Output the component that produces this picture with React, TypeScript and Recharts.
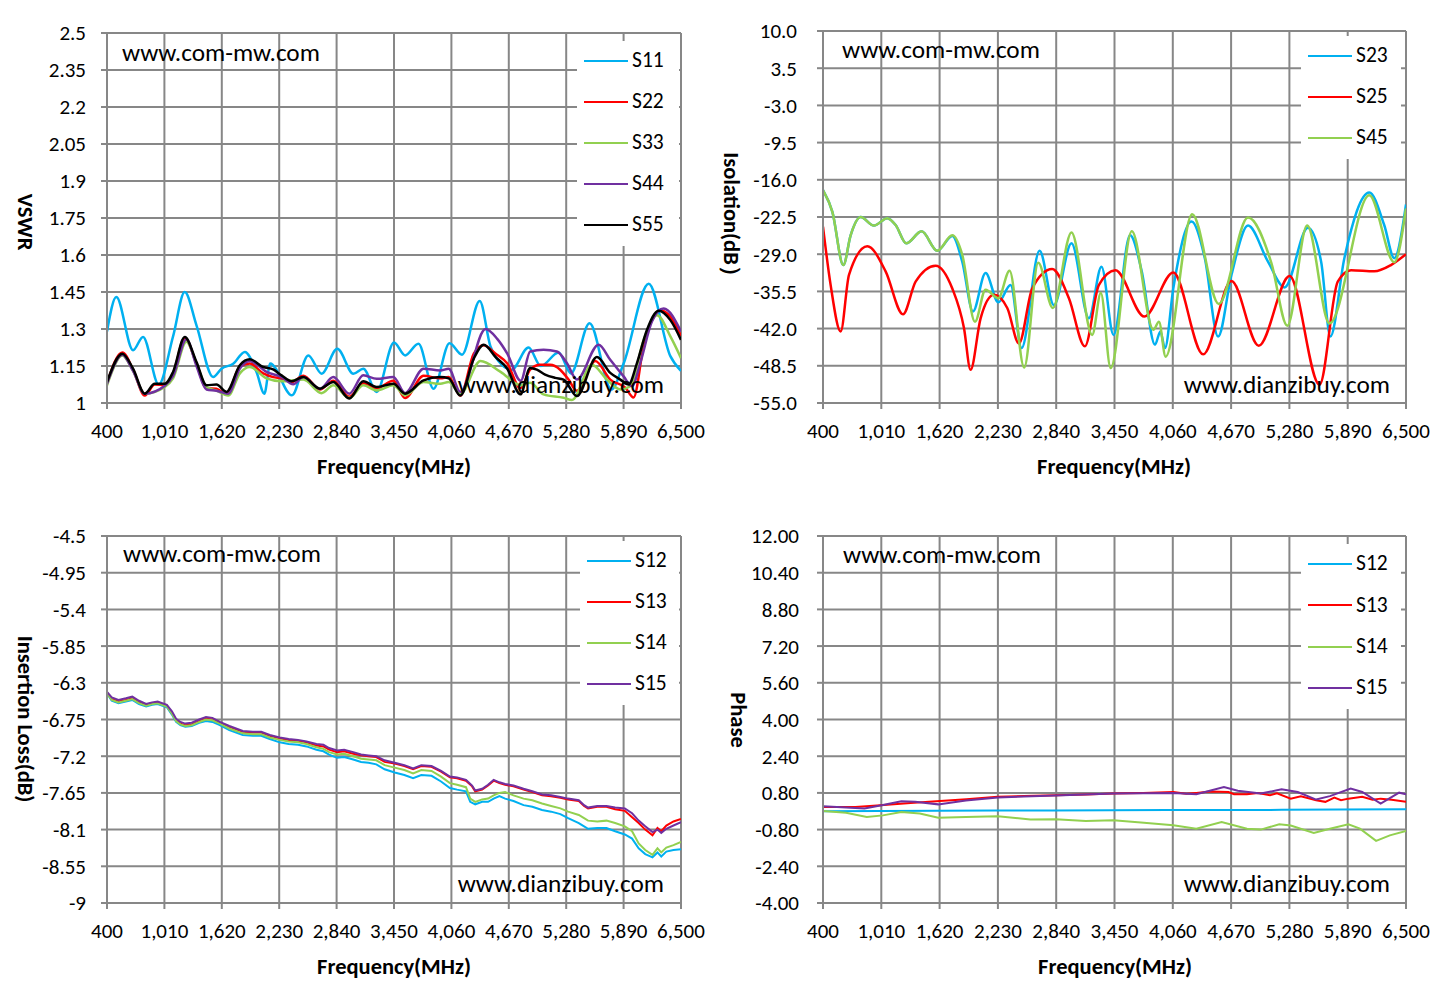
import React from 'react';
import { LineChart, Line, XAxis, YAxis, CartesianGrid, Legend } from 'recharts';

// frequency axis shared by all four panels
const freqTicks = [400, 1010, 1620, 2230, 2840, 3450, 4060, 4670, 5280, 5890, 6500];
const freqLabels = ['400', '1,010', '1,620', '2,230', '2,840', '3,450', '4,060', '4,670', '5,280', '5,890', '6,500'];

const vswrTicks = [1, 1.15, 1.3, 1.45, 1.6, 1.75, 1.9, 2.05, 2.2, 2.35, 2.5];
const vswrLabels = ['1', '1.15', '1.3', '1.45', '1.6', '1.75', '1.9', '2.05', '2.2', '2.35', '2.5'];
const isoTicks = [-55, -48.5, -42, -35.5, -29, -22.5, -16, -9.5, -3, 3.5, 10];
const isoLabels = ['-55.0', '-48.5', '-42.0', '-35.5', '-29.0', '-22.5', '-16.0', '-9.5', '-3.0', '3.5', '10.0'];
const ilTicks = [-9, -8.55, -8.1, -7.65, -7.2, -6.75, -6.3, -5.85, -5.4, -4.95, -4.5];
const ilLabels = ['-9', '-8.55', '-8.1', '-7.65', '-7.2', '-6.75', '-6.3', '-5.85', '-5.4', '-4.95', '-4.5'];
const phaseTicks = [-4, -2.4, -0.8, 0.8, 2.4, 4, 5.6, 7.2, 8.8, 10.4, 12];
const phaseLabels = ['-4.00', '-2.40', '-0.80', '0.80', '2.40', '4.00', '5.60', '7.20', '8.80', '10.40', '12.00'];

// VSWR  [MHz, value]
const s11 = [[400,1.29],[499,1.43],[677,1.214],[783,1.268],[950,1.075],[1102,1.27],[1226,1.45],[1351,1.315],[1528,1.105],[1617,1.139],[1741,1.159],[1865,1.207],[1989,1.126],[2072,1.038],[2135,1.16],[2365,1.031],[2539,1.193],[2681,1.119],[2847,1.22],[3018,1.119],[3124,1.139],[3266,1.045],[3450,1.245],[3568,1.193],[3710,1.24],[3870,1.058],[4040,1.242],[4173,1.196],[4361,1.414],[4475,1.229],[4560,1.17],[4700,1.135],[4880,1.225],[5010,1.15],[5200,1.205],[5330,1.12],[5528,1.323],[5760,1.055],[5890,1.16],[6156,1.483],[6387,1.19],[6500,1.13]];
const s22 = [[400,1.08],[563,1.205],[677,1.135],[801,1.03],[907,1.075],[1014,1.072],[1102,1.12],[1226,1.262],[1351,1.16],[1457,1.06],[1563,1.058],[1670,1.035],[1812,1.148],[1918,1.16],[2060,1.12],[2166,1.105],[2255,1.1],[2362,1.085],[2486,1.11],[2663,1.055],[2805,1.09],[2975,1.025],[3124,1.08],[3266,1.06],[3443,1.09],[3568,1.02],[3764,1.11],[3942,1.1],[4031,1.105],[4155,1.03],[4298,1.2],[4404,1.234],[4530,1.2],[4654,1.16],[4793,1.06],[4897,1.135],[5003,1.155],[5110,1.155],[5216,1.135],[5305,1.095],[5393,1.05],[5589,1.17],[5748,1.095],[5908,1.062],[5996,1.022],[6102,1.229],[6280,1.376],[6387,1.35],[6500,1.272]];
const s33 = [[400,1.072],[563,1.193],[677,1.13],[801,1.038],[1014,1.065],[1102,1.1],[1244,1.248],[1351,1.16],[1457,1.065],[1563,1.05],[1688,1.03],[1812,1.12],[1918,1.146],[2095,1.1],[2255,1.088],[2486,1.095],[2681,1.04],[2805,1.072],[2975,1.02],[3124,1.072],[3266,1.051],[3443,1.072],[3568,1.031],[3764,1.085],[3942,1.078],[4031,1.085],[4155,1.038],[4369,1.17],[4583,1.126],[4797,1.072],[4897,1.082],[5039,1.035],[5252,1.021],[5341,1.012],[5553,1.155],[5713,1.095],[5855,1.055],[5961,1.068],[6103,1.256],[6245,1.356],[6387,1.27],[6500,1.182]];
const s44 = [[400,1.078],[563,1.196],[677,1.13],[801,1.038],[1014,1.07],[1102,1.11],[1244,1.258],[1351,1.15],[1457,1.055],[1563,1.05],[1688,1.038],[1812,1.14],[1918,1.17],[2095,1.126],[2255,1.105],[2379,1.076],[2486,1.105],[2663,1.058],[2805,1.105],[2975,1.038],[3124,1.112],[3266,1.098],[3443,1.105],[3568,1.04],[3764,1.139],[3942,1.132],[4031,1.139],[4155,1.045],[4423,1.3],[4547,1.26],[4654,1.2],[4797,1.09],[4897,1.209],[5039,1.216],[5181,1.209],[5287,1.162],[5393,1.095],[5624,1.236],[5748,1.175],[5890,1.108],[5979,1.068],[6067,1.162],[6191,1.33],[6316,1.383],[6500,1.29]];
const s55 = [[400,1.085],[563,1.2],[677,1.139],[801,1.038],[907,1.078],[1014,1.078],[1102,1.126],[1226,1.268],[1351,1.166],[1457,1.072],[1563,1.075],[1670,1.045],[1812,1.153],[1918,1.177],[2060,1.146],[2166,1.136],[2255,1.112],[2362,1.088],[2486,1.105],[2663,1.058],[2805,1.085],[2975,1.018],[3124,1.088],[3266,1.065],[3443,1.078],[3568,1.038],[3764,1.092],[3942,1.105],[4031,1.1],[4155,1.03],[4298,1.18],[4404,1.236],[4530,1.186],[4654,1.139],[4793,1.035],[4897,1.142],[4968,1.135],[5056,1.115],[5163,1.102],[5252,1.095],[5393,1.028],[5606,1.186],[5748,1.122],[5855,1.095],[5943,1.075],[6032,1.162],[6138,1.296],[6262,1.374],[6387,1.336],[6500,1.256]];

// Isolation (dB)
const s23 = [[400,-17.8],[498,-21.6],[613,-30.9],[689,-25.7],[794,-22.5],[933,-24.0],[1073,-22.7],[1160,-23.9],[1271,-27.1],[1432,-25.0],[1596,-28.4],[1753,-25.8],[1857,-30.3],[1969,-39.0],[2101,-32.3],[2234,-37.4],[2363,-34.4],[2478,-45.4],[2666,-28.4],[2816,-37.9],[3000,-27.1],[3182,-40.2],[3314,-31.2],[3440,-43.1],[3613,-25.7],[3735,-32.0],[3874,-44.8],[3930,-42.5],[3978,-45.4],[4065,-35.0],[4256,-23.3],[4395,-29.7],[4534,-43.4],[4674,-32.6],[4847,-24.0],[5056,-30.3],[5230,-34.8],[5473,-24.4],[5612,-30.3],[5709,-43.4],[5855,-29.7],[6116,-18.2],[6272,-23.9],[6377,-29.7],[6500,-20.3]];
const s25 = [[400,-24.2],[480,-34.4],[585,-42.5],[672,-32.6],[864,-27.6],[1055,-32.0],[1237,-39.5],[1369,-33.8],[1578,-31.0],[1753,-35.0],[1875,-41.9],[1944,-49.2],[2049,-40.2],[2188,-36.1],[2328,-38.4],[2450,-44.6],[2589,-35.0],[2798,-31.6],[2973,-36.7],[3140,-45.1],[3286,-34.4],[3460,-31.8],[3763,-39.9],[4065,-32.2],[4378,-46.5],[4674,-33.7],[4959,-45.0],[5282,-32.8],[5595,-51.8],[5786,-33.8],[5925,-31.8],[6168,-32.0],[6342,-30.9],[6500,-29.0]];
const s45 = [[400,-17.8],[498,-21.6],[613,-30.9],[689,-25.7],[794,-22.5],[933,-24.0],[1073,-22.7],[1160,-23.9],[1271,-27.1],[1432,-25.0],[1596,-28.4],[1753,-25.7],[1857,-29.1],[1990,-40.8],[2101,-35.2],[2234,-36.7],[2352,-31.9],[2505,-48.8],[2652,-30.5],[2805,-38.4],[3000,-25.2],[3217,-43.1],[3307,-35.8],[3410,-48.9],[3631,-25.0],[3857,-42.2],[3915,-40.8],[3985,-46.9],[4263,-22.0],[4541,-37.7],[4847,-22.6],[5091,-30.5],[5258,-41.5],[5466,-24.0],[5699,-41.1],[6116,-18.7],[6377,-30.4],[6500,-21.0]];

// Insertion loss (dB)
const il12 = [[400,-6.43],[450,-6.52],[522,-6.55],[600,-6.53],[669,-6.51],[740,-6.56],[816,-6.59],[880,-6.57],[938,-6.56],[1036,-6.6],[1090,-6.69],[1134,-6.78],[1180,-6.82],[1232,-6.84],[1300,-6.83],[1380,-6.79],[1452,-6.77],[1520,-6.78],[1599,-6.82],[1700,-6.88],[1843,-6.94],[1950,-6.95],[2039,-6.95],[2130,-6.99],[2235,-7.03],[2330,-7.05],[2430,-7.06],[2520,-7.08],[2626,-7.12],[2700,-7.14],[2760,-7.18],[2846,-7.22],[2920,-7.21],[3017,-7.24],[3100,-7.27],[3180,-7.28],[3262,-7.3],[3350,-7.36],[3457,-7.4],[3560,-7.43],[3653,-7.47],[3740,-7.43],[3849,-7.44],[3950,-7.51],[4044,-7.59],[4120,-7.61],[4215,-7.63],[4260,-7.76],[4313,-7.79],[4387,-7.76],[4450,-7.76],[4509,-7.72],[4570,-7.69],[4631,-7.72],[4720,-7.75],[4827,-7.8],[4920,-7.82],[5023,-7.86],[5120,-7.88],[5218,-7.91],[5300,-7.96],[5414,-8.02],[5470,-8.06],[5512,-8.09],[5610,-8.08],[5708,-8.08],[5800,-8.12],[5903,-8.16],[5980,-8.21],[6050,-8.33],[6120,-8.4],[6197,-8.44],[6250,-8.38],[6290,-8.43],[6344,-8.37],[6420,-8.35],[6500,-8.34]];
const il13 = [[400,-6.42],[450,-6.5],[522,-6.53],[600,-6.51],[669,-6.49],[740,-6.54],[816,-6.57],[880,-6.55],[938,-6.54],[1036,-6.58],[1090,-6.67],[1134,-6.76],[1180,-6.8],[1232,-6.82],[1300,-6.81],[1380,-6.77],[1452,-6.74],[1520,-6.75],[1599,-6.79],[1700,-6.84],[1843,-6.9],[1950,-6.91],[2039,-6.91],[2130,-6.95],[2235,-6.98],[2330,-7.0],[2430,-7.01],[2520,-7.03],[2626,-7.07],[2700,-7.08],[2760,-7.12],[2846,-7.15],[2920,-7.14],[3017,-7.17],[3100,-7.19],[3180,-7.2],[3262,-7.21],[3350,-7.27],[3457,-7.29],[3560,-7.32],[3653,-7.36],[3740,-7.32],[3849,-7.33],[3950,-7.39],[4044,-7.46],[4120,-7.47],[4215,-7.5],[4280,-7.57],[4313,-7.63],[4387,-7.61],[4450,-7.56],[4509,-7.5],[4570,-7.53],[4631,-7.55],[4720,-7.57],[4827,-7.61],[4920,-7.64],[5023,-7.68],[5120,-7.69],[5218,-7.71],[5300,-7.73],[5414,-7.75],[5470,-7.81],[5512,-7.84],[5610,-7.82],[5708,-7.82],[5800,-7.85],[5903,-7.87],[5980,-7.95],[6050,-8.02],[6120,-8.1],[6197,-8.17],[6250,-8.08],[6290,-8.12],[6344,-8.05],[6420,-8.0],[6500,-7.97]];
const il14 = [[400,-6.43],[450,-6.51],[522,-6.54],[600,-6.52],[669,-6.5],[740,-6.55],[816,-6.58],[880,-6.56],[938,-6.55],[1036,-6.59],[1090,-6.68],[1134,-6.77],[1180,-6.81],[1232,-6.83],[1300,-6.82],[1380,-6.78],[1452,-6.75],[1520,-6.76],[1599,-6.8],[1700,-6.86],[1843,-6.92],[1950,-6.93],[2039,-6.93],[2130,-6.97],[2235,-7.0],[2330,-7.02],[2430,-7.03],[2520,-7.05],[2626,-7.09],[2700,-7.11],[2760,-7.15],[2846,-7.18],[2920,-7.17],[3017,-7.2],[3100,-7.23],[3180,-7.24],[3262,-7.25],[3350,-7.31],[3457,-7.34],[3560,-7.37],[3653,-7.41],[3740,-7.37],[3849,-7.38],[3950,-7.45],[4044,-7.53],[4120,-7.55],[4215,-7.58],[4260,-7.72],[4313,-7.76],[4387,-7.73],[4450,-7.72],[4509,-7.68],[4570,-7.65],[4631,-7.64],[4720,-7.68],[4827,-7.72],[4920,-7.74],[5023,-7.78],[5120,-7.81],[5218,-7.84],[5300,-7.88],[5414,-7.92],[5470,-7.96],[5512,-7.99],[5610,-8.0],[5708,-7.99],[5800,-8.02],[5903,-8.06],[5980,-8.12],[6050,-8.27],[6120,-8.35],[6197,-8.41],[6250,-8.33],[6290,-8.38],[6344,-8.32],[6420,-8.29],[6500,-8.25]];
const il15 = [[400,-6.41],[450,-6.48],[522,-6.51],[600,-6.49],[669,-6.47],[740,-6.52],[816,-6.56],[880,-6.54],[938,-6.53],[1036,-6.57],[1090,-6.65],[1134,-6.74],[1180,-6.78],[1232,-6.8],[1300,-6.79],[1380,-6.75],[1452,-6.72],[1520,-6.73],[1599,-6.78],[1700,-6.83],[1843,-6.89],[1950,-6.9],[2039,-6.9],[2130,-6.94],[2235,-6.97],[2330,-6.99],[2430,-7.0],[2520,-7.02],[2626,-7.05],[2700,-7.06],[2760,-7.1],[2846,-7.13],[2920,-7.12],[3017,-7.15],[3100,-7.18],[3180,-7.19],[3262,-7.2],[3350,-7.25],[3457,-7.28],[3560,-7.31],[3653,-7.35],[3740,-7.31],[3849,-7.32],[3950,-7.38],[4044,-7.45],[4120,-7.46],[4215,-7.49],[4280,-7.56],[4313,-7.62],[4387,-7.6],[4450,-7.55],[4509,-7.49],[4570,-7.52],[4631,-7.54],[4720,-7.56],[4827,-7.6],[4920,-7.63],[5023,-7.67],[5120,-7.68],[5218,-7.7],[5300,-7.72],[5414,-7.74],[5470,-7.8],[5512,-7.83],[5610,-7.81],[5708,-7.81],[5800,-7.83],[5903,-7.84],[5980,-7.9],[6050,-7.99],[6120,-8.06],[6197,-8.13],[6250,-8.1],[6290,-8.14],[6344,-8.09],[6420,-8.05],[6500,-8.01]];

// Phase
const ph12 = [[400,0.0],[1000,0.01],[1600,0.02],[2200,0.03],[2800,0.03],[3400,0.04],[4000,0.05],[4600,0.05],[5200,0.06],[5800,0.08],[6500,0.09]];
const ph13 = [[400,0.19],[738,0.19],[1003,0.26],[1316,0.36],[1625,0.45],[1900,0.52],[2228,0.63],[2500,0.66],[2835,0.7],[3150,0.73],[3438,0.77],[3750,0.8],[4065,0.84],[4200,0.76],[4306,0.8],[4450,0.86],[4643,0.84],[4700,0.74],[4836,0.74],[4950,0.8],[5077,0.7],[5150,0.78],[5294,0.55],[5400,0.65],[5560,0.48],[5656,0.41],[5750,0.6],[5820,0.48],[5897,0.55],[6042,0.63],[6150,0.5],[6235,0.55],[6350,0.5],[6500,0.41]];
const ph14 = [[400,0.01],[641,-0.07],[858,-0.25],[1027,-0.18],[1220,-0.03],[1413,-0.1],[1606,-0.28],[1895,-0.25],[2228,-0.22],[2570,-0.36],[2835,-0.35],[3149,-0.42],[3438,-0.39],[3727,-0.49],[4065,-0.61],[4306,-0.76],[4571,-0.47],[4836,-0.76],[4981,-0.8],[5174,-0.57],[5294,-0.62],[5535,-0.95],[5704,-0.76],[5897,-0.57],[6018,-0.76],[6187,-1.29],[6331,-1.05],[6500,-0.86]];
const ph15 = [[400,0.22],[834,0.12],[1027,0.27],[1220,0.44],[1364,0.41],[1606,0.3],[1895,0.47],[2228,0.6],[2835,0.69],[3438,0.77],[4065,0.8],[4306,0.74],[4595,1.06],[4740,0.89],[4981,0.77],[5198,0.96],[5367,0.84],[5560,0.51],[5704,0.66],[5921,0.99],[6042,0.84],[6235,0.33],[6428,0.81],[6500,0.74]];

const CYAN = '#00B0F0';
const RED = '#FF0000';
const GREEN = '#92D050';
const PURPLE = '#7030A0';
const BLACK = '#000000';
const GRID = '#878787';
const FONT = 'Carlito, Calibri, Lato, sans-serif';

const toPts = (arr: number[][]) => arr.map(([f, v]) => ({ f, v }));

const panels = [
  {
    plot: { x: 107, y: 33, w: 574, h: 370 },
    domain: [1, 2.5], ticks: vswrTicks, labels: vswrLabels, tickGap: 15,
    smooth: true, width: 2.5,
    series: [
      { name: 'S11', color: CYAN, pts: s11 },
      { name: 'S22', color: RED, pts: s22 },
      { name: 'S33', color: GREEN, pts: s33 },
      { name: 'S44', color: PURPLE, pts: s44 },
      { name: 'S55', color: BLACK, pts: s55 },
    ],
    legend: { x: 577, y: 40.5, w: 102, row: 41, line: 7 },
    yTitle: { text: 'VSWR', x: 25, y: 222 },
    xTitle: { x: 394, y: 466 },
    marks: { left: 122, top: 52, right: 664, bottom: 384 },
  },
  {
    plot: { x: 823, y: 31, w: 583, h: 372 },
    domain: [-55, 10], ticks: isoTicks, labels: isoLabels, tickGap: 20,
    smooth: true, width: 2.5,
    series: [
      { name: 'S23', color: CYAN, pts: s23 },
      { name: 'S25', color: RED, pts: s25 },
      { name: 'S45', color: GREEN, pts: s45 },
    ],
    legend: { x: 1301, y: 35.5, w: 100, row: 41, line: 7 },
    yTitle: { text: 'Isolation(dB）', x: 731, y: 220 },
    xTitle: { x: 1114, y: 466 },
    marks: { left: 842, top: 49, right: 1390, bottom: 384 },
  },
  {
    plot: { x: 107, y: 536, w: 574, h: 367 },
    domain: [-9, -4.5], ticks: ilTicks, labels: ilLabels, tickGap: 15,
    smooth: false, width: 2,
    series: [
      { name: 'S12', color: CYAN, pts: il12 },
      { name: 'S13', color: RED, pts: il13 },
      { name: 'S14', color: GREEN, pts: il14 },
      { name: 'S15', color: PURPLE, pts: il15 },
    ],
    legend: { x: 580, y: 540.5, w: 99, row: 41, line: 7 },
    yTitle: { text: 'Insertion Loss(dB)', x: 25, y: 719 },
    xTitle: { x: 394, y: 966 },
    marks: { left: 123, top: 553, right: 664, bottom: 883 },
  },
  {
    plot: { x: 823, y: 536, w: 583, h: 367 },
    domain: [-4, 12], ticks: phaseTicks, labels: phaseLabels, tickGap: 18,
    smooth: false, width: 2,
    series: [
      { name: 'S12', color: CYAN, pts: ph12 },
      { name: 'S13', color: RED, pts: ph13 },
      { name: 'S14', color: GREEN, pts: ph14 },
      { name: 'S15', color: PURPLE, pts: ph15 },
    ],
    legend: { x: 1301, y: 543.5, w: 100, row: 41.3, line: 7 },
    yTitle: { text: 'Phase', x: 738, y: 720 },
    xTitle: { x: 1115, y: 966 },
    marks: { left: 843, top: 554, right: 1390, bottom: 883 },
  },
];

const labelFor = (ticks: number[], labels: string[]) => (v: number) => {
  const i = ticks.findIndex((t) => Math.abs(t - v) < 1e-6);
  return i >= 0 ? labels[i] : String(v);
};

function Panel({ cfg }: { cfg: any }) {
  const yw = 100;
  const mt = 22, mr = 40, xh = 40, mb = 5;
  const W = yw + cfg.plot.w + mr;
  const H = mt + cfg.plot.h + xh + mb;
  const left = cfg.plot.x - yw;
  const top = cfg.plot.y - mt;

  const renderLegend = (props: any) => (
    <div style={{ background: '#fff', width: cfg.legend.w }}>
      {(props.payload || []).map((p: any) => (
        <div key={p.value} style={{ height: cfg.legend.row, display: 'flex', alignItems: 'center' }}>
          <span style={{ marginLeft: cfg.legend.line, width: 44, borderTop: `2.5px solid ${p.color}` }} />
          <span style={{ marginLeft: 4, fontSize: 21.5, color: '#000', lineHeight: 1 }}>{p.value}</span>
        </div>
      ))}
    </div>
  );

  return (
    <div style={{ position: 'absolute', left, top, width: W, height: H }}>
      <LineChart width={W} height={H} margin={{ top: mt, right: mr, bottom: mb, left: 0 }}>
        <CartesianGrid stroke={GRID} strokeWidth={2} />
        <XAxis
          type="number"
          dataKey="f"
          domain={[400, 6500]}
          ticks={freqTicks}
          tickFormatter={labelFor(freqTicks, freqLabels)}
          interval={0}
          allowDataOverflow
          height={xh}
          axisLine={{ stroke: GRID, strokeWidth: 2 }}
          tickLine={{ stroke: GRID, strokeWidth: 2 }}
          tickSize={6}
          tickMargin={14}
          tick={{ fill: '#000', fontSize: 21 }}
        />
        <YAxis
          type="number"
          domain={cfg.domain}
          ticks={cfg.ticks}
          tickFormatter={labelFor(cfg.ticks, cfg.labels)}
          interval={0}
          allowDataOverflow
          width={yw}
          axisLine={{ stroke: GRID, strokeWidth: 2 }}
          tickLine={{ stroke: GRID, strokeWidth: 2 }}
          tickSize={6}
          tickMargin={cfg.tickGap}
          tick={{ fill: '#000', fontSize: 21 }}
        />
        {cfg.series.map((s: any) => (
          <Line
            key={s.name}
            name={s.name}
            data={toPts(s.pts)}
            dataKey="v"
            type={cfg.smooth ? 'monotone' : 'linear'}
            stroke={s.color}
            strokeWidth={cfg.width}
            dot={false}
            activeDot={false}
            isAnimationActive={false}
          />
        ))}
        <Legend
          layout="vertical"
          align="center"
          verticalAlign="middle"
          content={renderLegend}
          wrapperStyle={{
            position: 'absolute',
            left: cfg.legend.x - left,
            top: cfg.legend.y - top,
            width: cfg.legend.w,
            margin: 0,
          }}
        />
      </LineChart>
    </div>
  );
}

const abs = (extra: any) => ({ position: 'absolute' as const, whiteSpace: 'nowrap' as const, color: '#000', ...extra });

export default function App() {
  return (
    <div style={{ position: 'absolute', left: 0, top: 0, width: 1440, height: 995, background: '#fff', fontFamily: FONT, overflow: 'hidden' }}>
      {panels.map((cfg, i) => (
        <Panel key={i} cfg={cfg} />
      ))}
      {panels.map((cfg, i) => (
        <React.Fragment key={'t' + i}>
          <div style={abs({ left: cfg.yTitle.x, top: cfg.yTitle.y, fontSize: 22.5, fontWeight: 700, transform: 'translate(-50%, -50%) rotate(90deg)' })}>
            {cfg.yTitle.text}
          </div>
          <div style={abs({ left: cfg.xTitle.x, top: cfg.xTitle.y, fontSize: 22.5, fontWeight: 700, transform: 'translate(-50%, -50%)' })}>
            Frequency(MHz)
          </div>
          <div style={abs({ left: cfg.marks.left, top: cfg.marks.top, fontSize: 25.3, transform: 'translateY(-50%)' })}>
            www.com-mw.com
          </div>
          <div style={abs({ left: cfg.marks.right, top: cfg.marks.bottom, fontSize: 25.3, transform: 'translate(-100%, -50%)' })}>
            www.dianzibuy.com
          </div>
        </React.Fragment>
      ))}
    </div>
  );
}
